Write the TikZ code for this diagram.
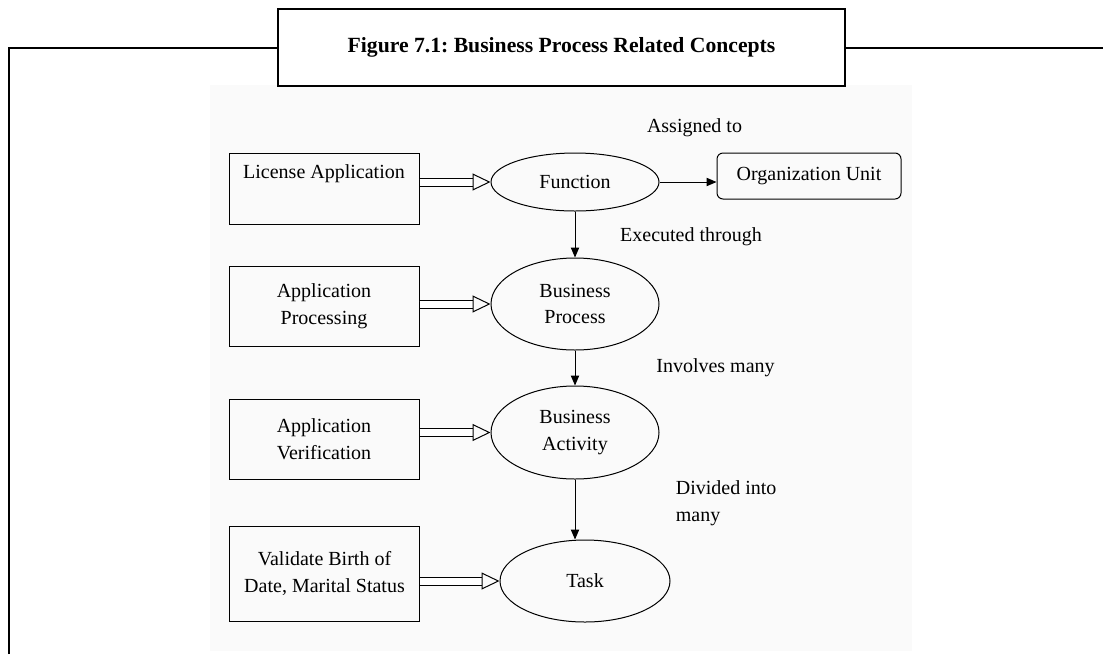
\documentclass[tikz,border=0pt]{standalone}
\usepackage{fontspec}
\setmainfont{Liberation Serif}
\usetikzlibrary{arrows.meta,shapes.geometric}

\begin{document}
\begin{tikzpicture}[x=0.6pt, y=-0.6pt,
  every node/.style={font=\fontsize{12}{16}\selectfont},
  framebox/.style={draw=black, line width=1.2pt},
  itembox/.style={draw=black, line width=0.6pt, minimum width=114pt, align=center, inner sep=2pt},
  oval/.style={ellipse, draw=black, line width=0.6pt, minimum width=100.8pt, align=center, inner sep=0pt},
  dblarrow/.style={draw=black, double, line width=0.6pt, double distance=4.2pt, -{Triangle[open, length=10.8pt, width=10.2pt]}},
  onearrow/.style={draw=black, line width=0.6pt, -{Triangle[length=6pt, width=5pt]}}]
\useasboundingbox (0,0) rectangle (1103,654);
\fill[black!2] (210,85) rectangle (912,651);
\node[framebox, minimum width=340.2pt, minimum height=46.2pt, font=\fontsize{13}{15}\selectfont\bfseries\frenchspacing] (title) at (561.5,47.5) {Figure 7.1: Business Process Related Concepts};
\draw[framebox] (9,654) |- (title.west);
\draw[framebox] (title.east) -- ++(258,0);
\node[itembox, minimum height=42.6pt] (lic) at (324,188.5) {License Application\\ \strut};
\node[itembox, minimum height=48pt] (proc) at (324,306) {Application\\Processing};
\node[itembox, minimum height=48pt] (ver) at (324,439) {Application\\Verification};
\node[itembox, minimum height=57pt] (val) at (324.5,573.5) {Validate Birth of\\Date, Marital Status};
\node[oval, minimum height=34.8pt] (func) at (575,182) {Function};
\node[oval, minimum height=55.2pt] (bproc) at (575,304) {Business\\Process};
\node[oval, minimum height=55.8pt] (bact) at (575,432.5) {Business\\Activity};
\node[oval, minimum width=102pt, minimum height=49.2pt] (task) at (585,581) {Task};
\node[draw=black, line width=0.6pt, rounded corners=3.6pt, minimum width=110.4pt, minimum height=27.6pt] (org) at (809,176) {Organization Unit};
\node (assign) at (694.5,128) {Assigned to};
\node (exec) at (691,237) {Executed through};
\node (inv) at (715.5,368) {Involves many};
\node[align=left, anchor=west] (div) at (670,503.5) {Divided into\\many};
\draw[dblarrow] (lic.east |- func.west) -- (func.west);
\draw[dblarrow] (proc.east |- bproc.west) -- (bproc.west);
\draw[dblarrow] (ver.east |- bact.west) -- (bact.west);
\draw[dblarrow] (val.east |- task.west) -- (task.west);
\draw[onearrow] (func.east) -- (func.east -| org.west);
\draw[onearrow] (func) -- (bproc);
\draw[onearrow] (bproc) -- (bact);
\draw[onearrow] (bact.south) -- (bact.south |- task.north);
\end{tikzpicture}
\end{document}
